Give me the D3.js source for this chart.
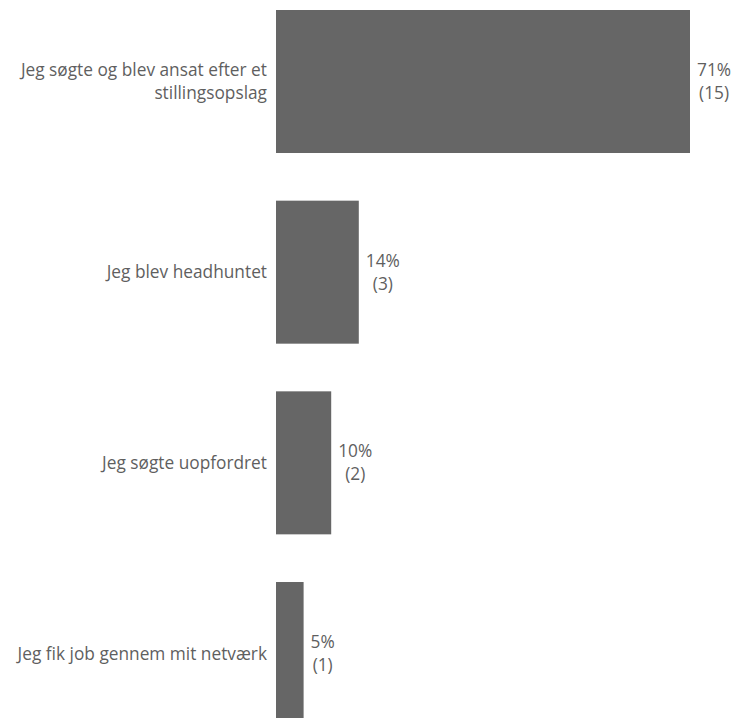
<!DOCTYPE html>
<html>
<head>
<meta charset="utf-8">
<script src="https://cdn.jsdelivr.net/npm/d3@7"></script>
<style>
  html, body { margin: 0; padding: 0; background: #ffffff; }
  svg { display: block; }
  text { font-family: "Open Sans", "Noto Sans", sans-serif; fill: #5f5f5f; }
</style>
</head>
<body>
<svg id="chart" width="736" height="718"></svg>
<script>
const categories = [
  ["Jeg søgte og blev ansat efter et", "stillingsopslag"],
  ["Jeg blev headhuntet"],
  ["Jeg søgte uopfordret"],
  ["Jeg fik job gennem mit netværk"]
];
const counts = [15, 3, 2, 1];
const percentLabels = ["71%", "14%", "10%", "5%"];
const countLabels = ["(15)", "(3)", "(2)", "(1)"];

const svg = d3.select("#chart");
const fontSize = 17.3;
const lineH = 23;

const step = 190.67;
const y = d3.scaleBand()
  .domain(d3.range(categories.length))
  .range([10, 10 + step * categories.length - step * 0.25])
  .paddingInner(0.25)
  .paddingOuter(0);

const x = d3.scaleLinear().domain([0, 15]).range([276, 690]);

const g = svg.append("g");

const rows = g.selectAll("g.row")
  .data(categories.map((c, i) => ({ c, i })))
  .join("g").attr("class", "row");

rows.append("rect")
  .attr("x", x(0))
  .attr("y", d => y(d.i))
  .attr("width", d => x(counts[d.i]) - x(0))
  .attr("height", y.bandwidth())
  .attr("fill", "#666666");

// category labels
rows.each(function(d) {
  const cy = y(d.i) + y.bandwidth() / 2;
  const n = d.c.length;
  const t = d3.select(this).append("text")
    .attr("text-anchor", "end")
    .attr("font-size", fontSize);
  d.c.forEach((line, k) => {
    t.append("tspan")
      .attr("x", 267)
      .attr("y", cy + (k - (n - 1) / 2) * lineH + fontSize * 0.35)
      .text(line);
  });
});

// value labels
rows.each(function(d) {
  const cy = y(d.i) + y.bandwidth() / 2;
  const lines = [percentLabels[d.i], countLabels[d.i]];
  const t = d3.select(this).append("text")
    .attr("text-anchor", "middle")
    .attr("font-size", fontSize);
  const spans = lines.map((line, k) => t.append("tspan")
    .attr("y", cy + (k - 0.5) * lineH + fontSize * 0.35)
    .text(line));
  const w = d3.max(spans, s => s.node().getComputedTextLength());
  const cx = x(counts[d.i]) + 7 + w / 2;
  spans.forEach(s => s.attr("x", cx));
});
</script>
</body>
</html>
